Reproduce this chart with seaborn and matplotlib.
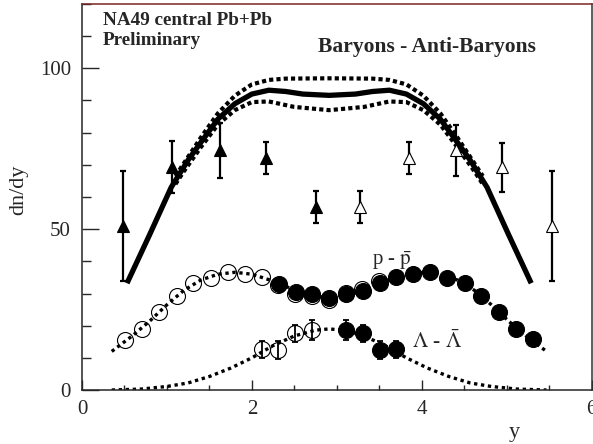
import numpy as np
import matplotlib
matplotlib.use("Agg")
import matplotlib.pyplot as plt
import pandas as pd
import seaborn as sns

# Baryon model curve (solid) and its band (dotted)
curve_x = [0.53, 0.8, 1.05, 1.25, 1.4, 1.6, 1.8, 2.0, 2.2, 2.4, 2.6, 2.91,
           3.22, 3.42, 3.62, 3.82, 4.02, 4.22, 4.42, 4.57, 4.77, 5.02, 5.29]
curve_y = [33.2, 48.5, 63.0, 71.5, 77.0, 84.2, 89.0, 92.0, 93.2, 92.8, 92.0, 91.6,
           92.0, 92.8, 93.2, 92.0, 89.0, 84.2, 77.0, 71.5, 63.0, 48.5, 33.2]
band_hi_x = [1.1, 1.2, 1.4, 1.6, 1.8, 2.0, 2.2, 2.4, 2.91, 3.42, 3.62, 3.82, 4.02, 4.22, 4.42, 4.62, 4.72]
band_hi_y = [66.5, 70.5, 78.5, 86.0, 91.5, 95.0, 96.4, 96.8, 96.9, 96.8, 96.4, 95.0, 91.5, 86.0, 78.5, 70.5, 66.5]
band_lo_x = [1.1, 1.2, 1.4, 1.6, 1.8, 2.0, 2.2, 2.5, 2.91, 3.32, 3.62, 3.82, 4.02, 4.22, 4.42, 4.62, 4.72]
band_lo_y = [64.0, 68.0, 75.5, 82.5, 87.0, 89.5, 89.7, 88.0, 87.0, 88.0, 89.7, 89.5, 87.0, 82.5, 75.5, 68.0, 64.0]

# triangles (measured / reflected)
tri_full_x = [0.48, 1.06, 1.62, 2.17, 2.75]
tri_full_y = [51.0, 69.3, 74.5, 72.0, 57.0]
tri_full_err = [17.0, 8.0, 8.5, 5.0, 5.0]
tri_open_x = [3.27, 3.85, 4.40, 4.95, 5.53]
tri_open_y = [57.0, 72.0, 74.5, 69.3, 51.0]
tri_open_err = [5.0, 5.0, 8.0, 7.6, 17.0]

# p - pbar
p_full_x = [2.32, 2.52, 2.71, 2.91, 3.11, 3.31, 3.51, 3.70, 3.90, 4.10, 4.30, 4.51, 4.70, 4.91, 5.11, 5.31]
p_full_y = [33.1, 30.5, 29.8, 28.5, 29.8, 30.8, 33.3, 35.2, 36.2, 36.8, 34.9, 33.4, 29.3, 24.3, 19.1, 16.0]
p_open_x = [0.51, 0.71, 0.91, 1.12, 1.31, 1.52, 1.72, 1.92, 2.12, 2.31, 2.51, 2.71, 2.91, 3.11, 3.30, 3.50]
p_open_y = [15.7, 19.0, 24.3, 29.3, 33.3, 34.9, 36.8, 36.2, 35.0, 32.5, 30.0, 29.3, 28.0, 30.3, 31.4, 34.0]
p_fit_x = [0.35, 0.6, 0.8, 1.0, 1.2, 1.4, 1.6, 1.8, 2.0, 2.2, 2.4, 2.6, 2.8, 2.91,
           3.02, 3.22, 3.42, 3.62, 3.82, 4.02, 4.22, 4.42, 4.62, 4.82, 5.02, 5.22, 5.47]
p_fit_y = [12.0, 17.0, 21.5, 26.5, 31.0, 34.2, 36.0, 36.6, 36.0, 34.3, 32.2, 30.2, 29.0, 28.8,
           29.0, 30.2, 32.2, 34.3, 36.0, 36.6, 36.0, 34.2, 31.0, 26.5, 21.5, 17.0, 12.0]

# Lambda - anti-Lambda
lam_open_x = [2.12, 2.31, 2.51, 2.71]
lam_open_y = [12.6, 12.4, 17.6, 18.6]
lam_open_err = [2.7, 2.7, 2.6, 3.1]
lam_full_x = [3.11, 3.31, 3.51, 3.70]
lam_full_y = [18.6, 17.6, 12.4, 12.6]
lam_full_err = [3.1, 2.6, 2.7, 2.7]
lam_fit_x = [0.35, 0.7, 1.0, 1.25, 1.5, 1.75, 2.0, 2.25, 2.5, 2.75, 2.91,
             3.07, 3.32, 3.57, 3.82, 4.07, 4.32, 4.57, 4.82, 5.12, 5.47]
lam_fit_y = [0.0, 0.3, 1.1, 2.2, 4.2, 6.8, 10.0, 13.8, 16.8, 18.6, 19.0,
             18.6, 16.8, 13.8, 10.0, 6.8, 4.2, 2.2, 1.1, 0.3, 0.0]

sns.set_style("ticks")
plt.rcParams['font.family'] = ['Liberation Serif', 'DejaVu Serif']
plt.rcParams['mathtext.fontset'] = 'stix'

fig = plt.figure(figsize=(5.93, 4.44), dpi=100)
ax = fig.add_axes([0.1383, 0.1216, 0.8592, 0.8694])

dots = (0, (1, 0.75))
sns.lineplot(x=curve_x, y=curve_y, ax=ax, color='black', lw=3.8, sort=False, estimator=None,
             solid_capstyle='butt')
sns.lineplot(x=band_hi_x, y=band_hi_y, ax=ax, color='black', lw=3.0, sort=False, estimator=None,
             linestyle=dots, dash_capstyle='butt')
sns.lineplot(x=band_lo_x, y=band_lo_y, ax=ax, color='black', lw=3.0, sort=False, estimator=None,
             linestyle=dots, dash_capstyle='butt')

fine_dots = (0, (1, 1.1))
sns.lineplot(x=p_fit_x, y=p_fit_y, ax=ax, color='black', lw=2.4, sort=False, estimator=None,
             linestyle=fine_dots, dash_capstyle='butt')
sns.lineplot(x=lam_fit_x, y=lam_fit_y, ax=ax, color='black', lw=2.4, sort=False, estimator=None,
             linestyle=fine_dots, dash_capstyle='butt')

# triangles with error bars
ax.errorbar(tri_full_x, tri_full_y, yerr=tri_full_err, fmt='none', ecolor='black',
            elinewidth=1.6, capsize=2.2, capthick=1.6, zorder=4)
ax.errorbar(tri_open_x, tri_open_y, yerr=tri_open_err, fmt='none', ecolor='black',
            elinewidth=1.6, capsize=2.2, capthick=1.6, zorder=4)
ax.plot(tri_full_x, tri_full_y, ls='none', marker='^', ms=8.5, mfc='black', mec='black', mew=0.8, zorder=5)
ax.plot(tri_open_x, tri_open_y, ls='none', marker='^', ms=8.5, mfc='white', mec='black', mew=0.8, zorder=5)

# p - pbar circles
ax.plot(p_open_x, p_open_y, ls='none', marker='o', ms=11.5, mfc='none', mec='black', mew=0.8, zorder=5)
ax.plot(p_full_x, p_full_y, ls='none', marker='o', ms=11.5, mfc='black', mec='black', mew=0.8, zorder=6)

# Lambda circles
ax.errorbar(lam_open_x, lam_open_y, yerr=lam_open_err, fmt='none', ecolor='black',
            elinewidth=1.3, capsize=2.2, capthick=1.3, zorder=4)
ax.errorbar(lam_full_x, lam_full_y, yerr=lam_full_err, fmt='none', ecolor='black',
            elinewidth=1.3, capsize=2.2, capthick=1.3, zorder=4)
ax.plot(lam_open_x, lam_open_y, ls='none', marker='o', ms=11.5, mfc='none', mec='black', mew=0.8, zorder=5)
ax.plot(lam_full_x, lam_full_y, ls='none', marker='o', ms=11.5, mfc='black', mec='black', mew=0.8, zorder=6)

ax.set_xlim(0, 6)
ax.set_ylim(0, 120)
ax.set_xticks([0, 2, 4, 6])
ax.set_xticks(np.arange(0, 6.01, 0.5), minor=True)
ax.set_yticks([0, 50, 100])
ax.set_yticks(np.arange(0, 120.1, 10), minor=True)
ax.tick_params(axis='x', which='major', direction='in', length=7.5, width=1.0, labelsize=15, pad=7)
ax.tick_params(axis='x', which='minor', direction='in', length=3.5, width=1.0)
ax.tick_params(axis='y', which='major', direction='in', length=12, width=1.0, labelsize=15, pad=8)
ax.tick_params(axis='y', which='minor', direction='in', length=6.5, width=1.0)

for side in ['left', 'bottom', 'right', 'top']:
    ax.spines[side].set_visible(True)
    ax.spines[side].set_linewidth(1.1)
ax.spines['top'].set_color('#7a2525')
ax.spines['right'].set_color('#333333')

ax.set_xlabel('y', fontsize=16)
ax.xaxis.set_label_coords(0.849, -0.085)
ax.set_ylabel('dn/dy', fontsize=16)
ax.yaxis.set_label_coords(-0.106, 0.518)

ax.text(0.247, 113.4, 'NA49 central Pb+Pb', fontsize=13.8, fontweight='bold', va='baseline')
ax.text(0.247, 107.1, 'Preliminary', fontsize=13.8, fontweight='bold', va='baseline')
ax.text(2.776, 105.1, 'Baryons - Anti-Baryons', fontsize=15.5, fontweight='bold', va='baseline')
ax.text(3.41, 38.8, r'p - $\bar{\mathrm{p}}$', fontsize=15, va='baseline')
ax.text(3.89, 13.0, r'$\Lambda$ - $\bar{\Lambda}$', fontsize=15.5, va='baseline')

fig.savefig('out.png', dpi=100)
